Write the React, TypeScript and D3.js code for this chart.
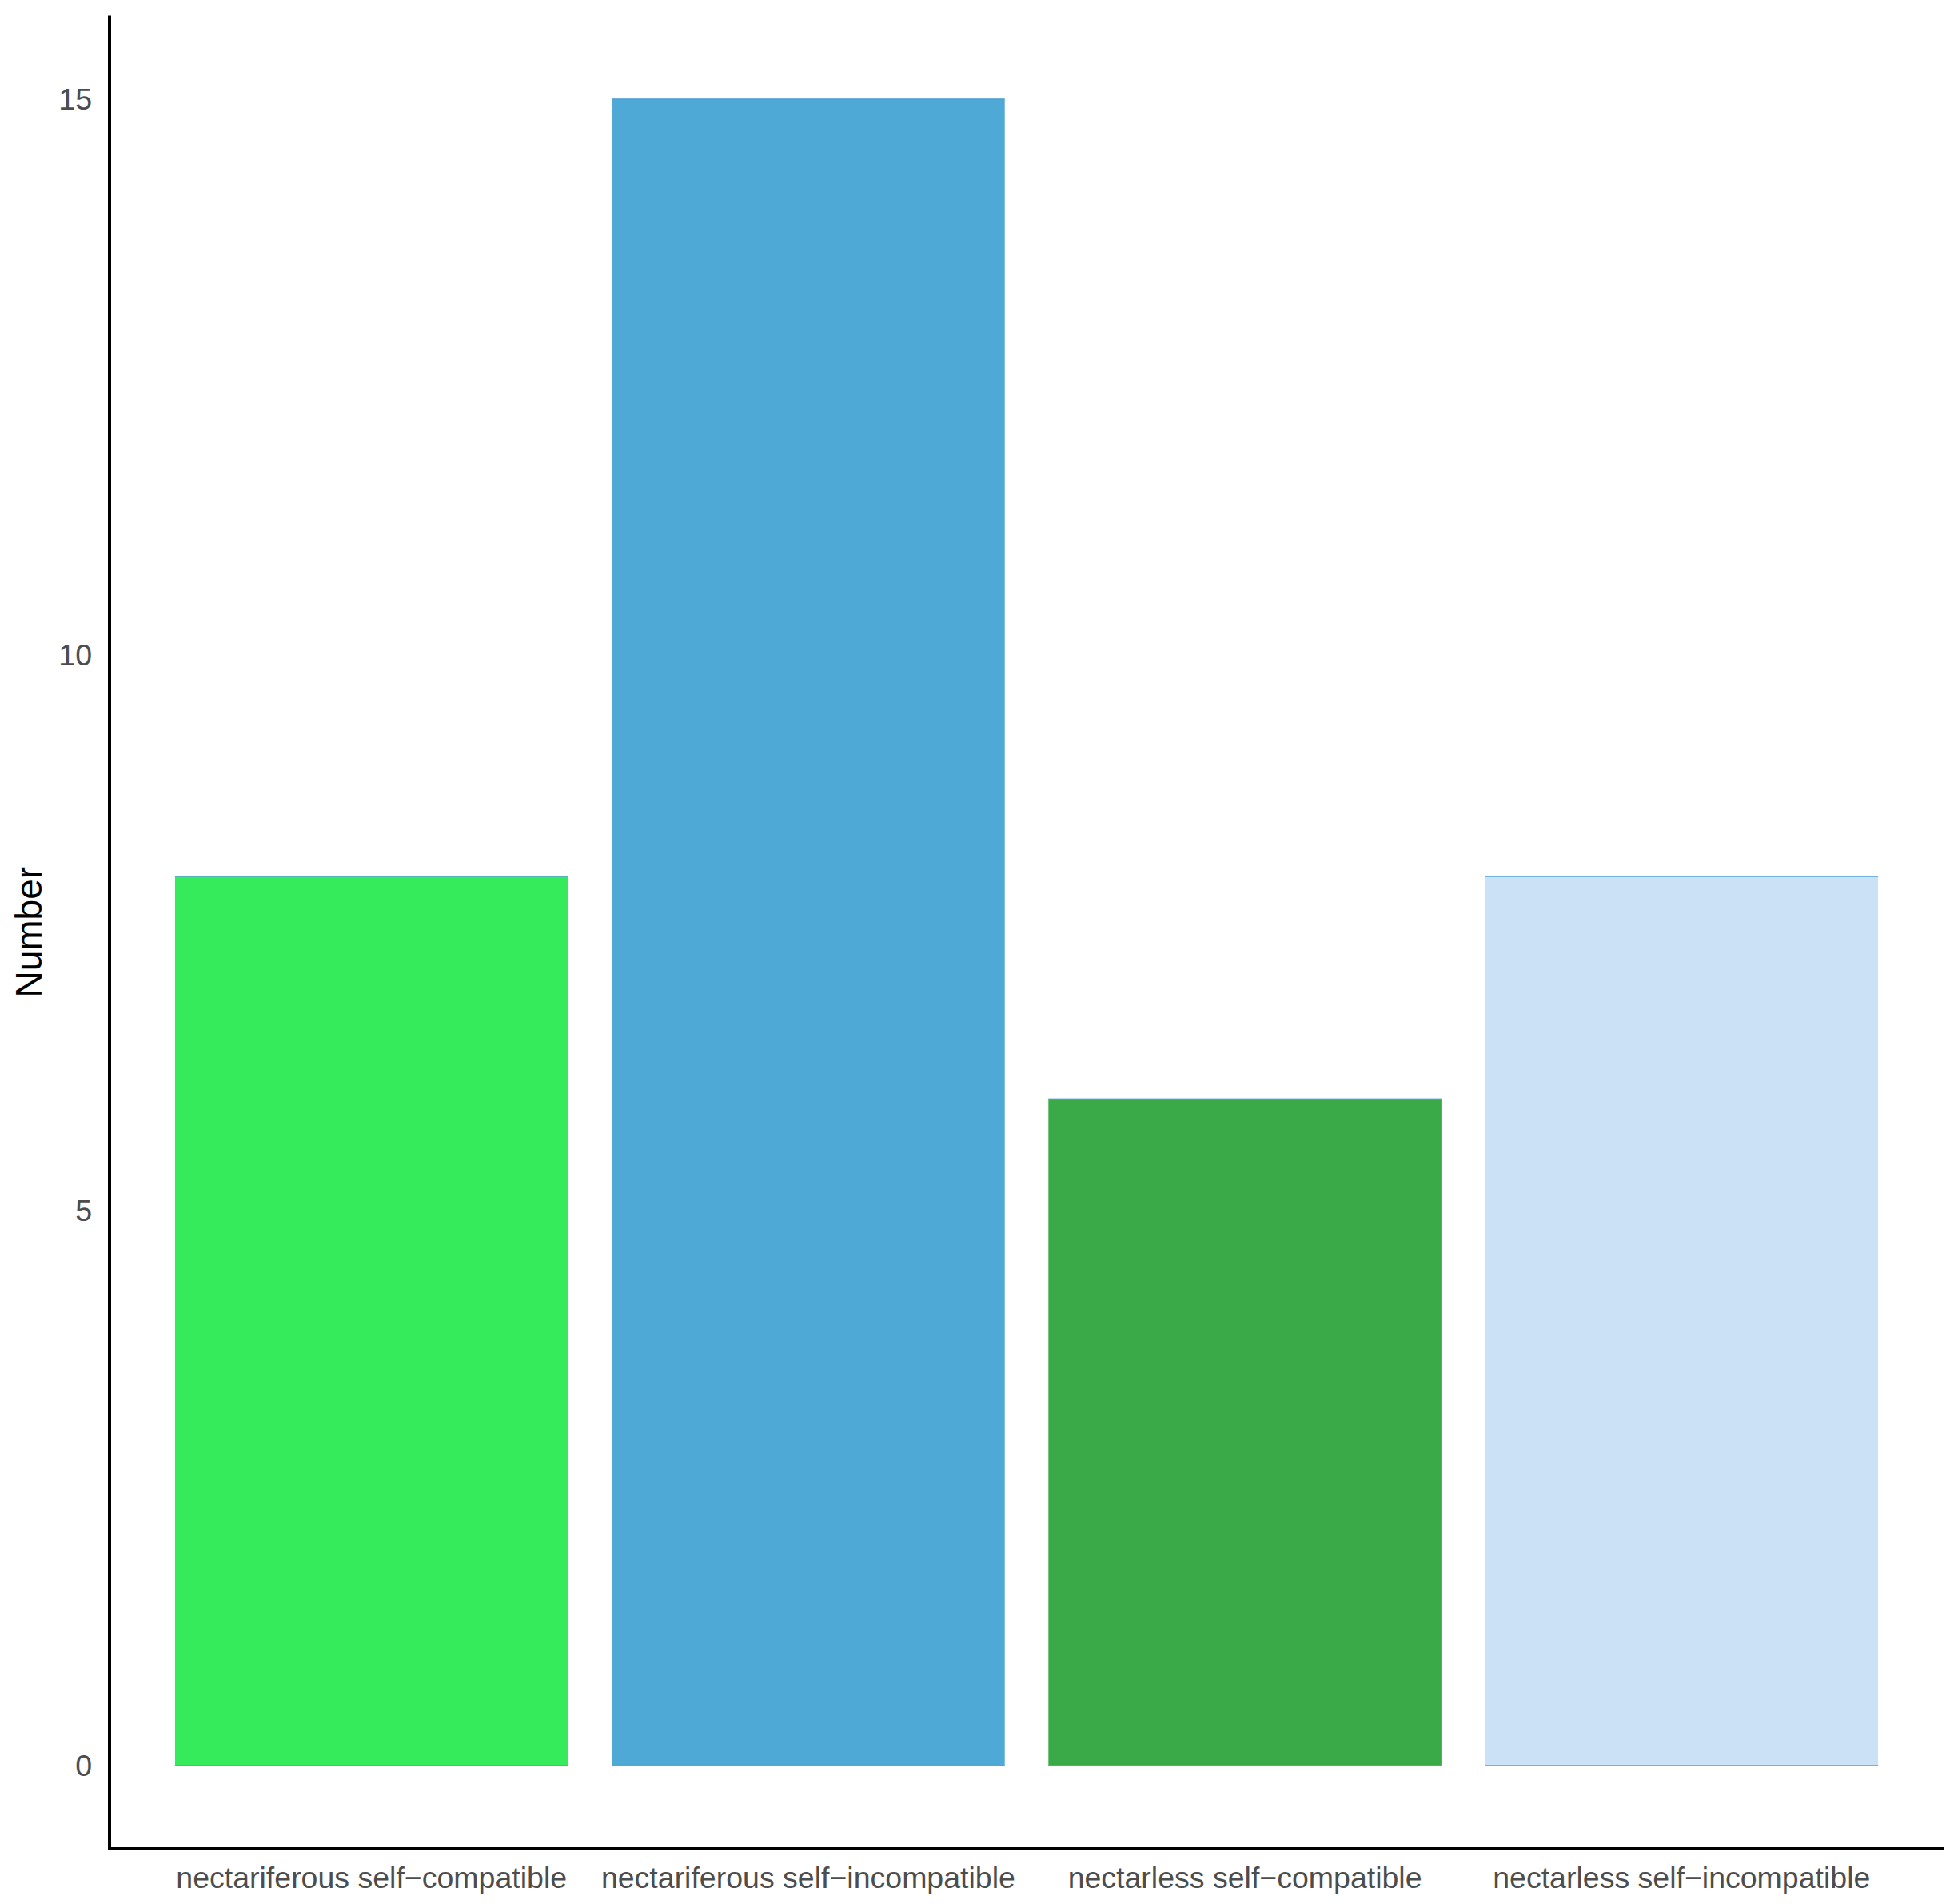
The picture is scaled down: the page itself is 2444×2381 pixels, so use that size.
import { useEffect, useRef } from "react"
import * as d3 from "d3"

const categories = [
  "nectariferous self\u2212compatible",
  "nectariferous self\u2212incompatible",
  "nectarless self\u2212compatible",
  "nectarless self\u2212incompatible",
]
const counts = [8, 15, 6, 8]
const barColors = ["#35EB5B", "#4FA9D6", "#39AA47", "#CBE1F5"]
const yTicks = [0, 5, 10, 15]

const W = 2444
const H = 2381
const FONT = "'Liberation Sans', Arial, Helvetica, sans-serif"

export default function App() {
  const svgRef = useRef<SVGSVGElement>(null)

  useEffect(() => {
    if (!svgRef.current) return
    const svg = d3.select(svgRef.current)
    svg.selectAll("*").remove()

    const left = 137
    const right = 2431
    const top = 19.5
    const bottom = 2312

    const x = d3.scaleBand<string>()
      .domain(categories)
      .range([left, right])
      .paddingInner(0.1)
      .paddingOuter(0.15)

    // ggplot-style 5% expansion
    const maxV = d3.max(counts) || 1
    const pad = maxV * 0.05
    const y = d3.scaleLinear()
      .domain([-pad, maxV + pad])
      .range([bottom, top])

    svg.append("rect")
      .attr("width", W)
      .attr("height", H)
      .attr("fill", "#ffffff")

    // Bars
    const bars = svg.append("g")
    bars.selectAll("rect")
      .data(categories)
      .join("rect")
      .attr("x", d => x(d) as number)
      .attr("width", x.bandwidth())
      .attr("y", (_, i) => y(counts[i]))
      .attr("height", (_, i) => y(0) - y(counts[i]))
      .attr("fill", (_, i) => barColors[i])

    // thin bluish edge along top and bottom of each bar
    bars.selectAll("path.edge")
      .data(categories)
      .join("path")
      .attr("class", "edge")
      .attr("d", (d, i) => {
        const x0 = x(d) as number
        const x1 = x0 + x.bandwidth()
        return `M${x0},${y(counts[i])}H${x1}M${x0},${y(0)}H${x1}`
      })
      .attr("stroke", "#4a9ad6")
      .attr("stroke-opacity", 0.7)
      .attr("stroke-width", 1.5)
      .attr("fill", "none")

    // Axis lines
    svg.append("path")
      .attr("d", `M${left},${top}V${bottom}H${right}`)
      .attr("fill", "none")
      .attr("stroke", "#000")
      .attr("stroke-width", 4)

    // Y tick labels
    svg.append("g")
      .selectAll("text")
      .data(yTicks)
      .join("text")
      .attr("x", 115)
      .attr("y", d => y(d))
      .attr("dy", "0.36em")
      .attr("text-anchor", "end")
      .attr("font-family", FONT)
      .attr("font-size", 37.5)
      .attr("fill", "#4d4d4d")
      .text(d => d)

    // X tick labels
    svg.append("g")
      .selectAll("text")
      .data(categories)
      .join("text")
      .attr("x", d => (x(d) as number) + x.bandwidth() / 2)
      .attr("y", 2361)
      .attr("text-anchor", "middle")
      .attr("font-family", FONT)
      .attr("font-size", 37.5)
      .attr("fill", "#4d4d4d")
      .text(d => d)

    // Y axis title
    svg.append("text")
      .attr("transform", `translate(52,${(top + bottom) / 2}) rotate(-90)`)
      .attr("text-anchor", "middle")
      .attr("font-family", FONT)
      .attr("font-size", 46)
      .attr("fill", "#000")
      .text("Number")
  }, [])

  return (
    <svg
      ref={svgRef}
      width={W}
      height={H}
      style={{ position: "absolute", left: 0, top: 0, display: "block" }}
    />
  )
}
